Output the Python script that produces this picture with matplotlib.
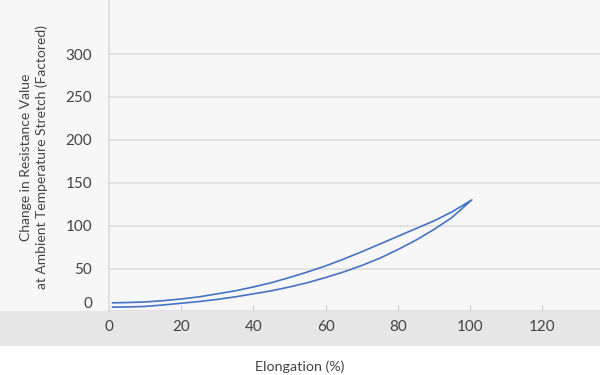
import matplotlib.pyplot as plt
import matplotlib.transforms as mtransforms
from matplotlib.patches import Rectangle

# Loading branch (lower) and return branch (upper)
load_x = [1, 5, 10, 15, 20, 25, 30, 35, 40, 45, 50, 55, 60, 65, 70, 75, 80, 85, 90, 95, 100.5]
load_y = [5, 5.2, 5.8, 7.5, 9.5, 11.5, 14, 17, 20.5, 24, 28.5, 33.5, 39.5, 46, 53.5, 62,
          72, 83, 95.5, 109.5, 130]
return_x = [100.5, 95, 90, 85, 80, 75, 70, 65, 60, 55, 50, 45, 40, 35, 30, 25, 20, 15, 10, 5, 1]
return_y = [130, 116, 105.5, 96.5, 87.5, 78.5, 69.5, 61, 53, 46, 39.5, 33.5, 28.5, 24, 20.5,
            17, 14.5, 12.5, 11, 10.3, 10]

y_ticks = [0, 50, 100, 150, 200, 250, 300]
x_ticks = [0, 20, 40, 60, 80, 100, 120]

plt.rcParams['font.family'] = ['Lato', 'DejaVu Sans']
text_color = '#444444'

fig = plt.figure(figsize=(6, 3.75), dpi=100, facecolor='#f7f7f7')
# white strip at the very bottom and grey band behind the x tick labels
fig.patches.append(Rectangle((0, 0), 1, 29 / 375, transform=fig.transFigure,
                             facecolor='white', edgecolor='none', zorder=-2))
fig.patches.append(Rectangle((0, 29 / 375), 1, 34.6 / 375, transform=fig.transFigure,
                             facecolor='#e6e6e6', edgecolor='none', zorder=-2))

ax = fig.add_axes([109 / 600, 63.6 / 375, 491 / 600, 311.4 / 375])
ax.set_facecolor('#f7f7f7')

ax.plot(load_x + return_x, load_y + return_y, color='#4472c4', linewidth=1.2,
        solid_joinstyle='round', zorder=3)

ax.set_xlim(0, 136)
ax.set_ylim(0, 363)
ax.set_xticks(x_ticks)
ax.set_yticks(y_ticks)
ax.grid(axis='y', color='#dddddd', linewidth=1.2)
ax.set_axisbelow(True)

for side in ['top', 'right', 'bottom']:
    ax.spines[side].set_visible(False)
ax.spines['left'].set_color('#dddddd')
ax.spines['left'].set_linewidth(1.2)

ax.tick_params(axis='x', direction='in', length=4.5, width=0.8, color='#cccccc',
               pad=6.5, labelsize=11, labelcolor=text_color)
ax.tick_params(axis='y', length=0, pad=12, labelsize=11, labelcolor=text_color)

# the zero label sits a bit above the band edge
zero_lbl = ax.get_yticklabels()[0]
zero_lbl.set_transform(zero_lbl.get_transform() +
                       mtransforms.ScaledTranslation(0, 9 / 100, fig.dpi_scale_trans))

fig.text(34 / 600, 1 - 157 / 375,
         'Change in Resistance Value\nat Ambient Temperature Stretch (Factored)',
         rotation=90, ha='center', va='center', multialignment='center',
         fontsize=10, color=text_color, linespacing=1.3)
fig.text(0.5, 1 - 367 / 375, 'Elongation (%)', ha='center', va='center',
         fontsize=10.3, color=text_color)

fig.savefig('out.png', dpi=100, facecolor=fig.get_facecolor())
